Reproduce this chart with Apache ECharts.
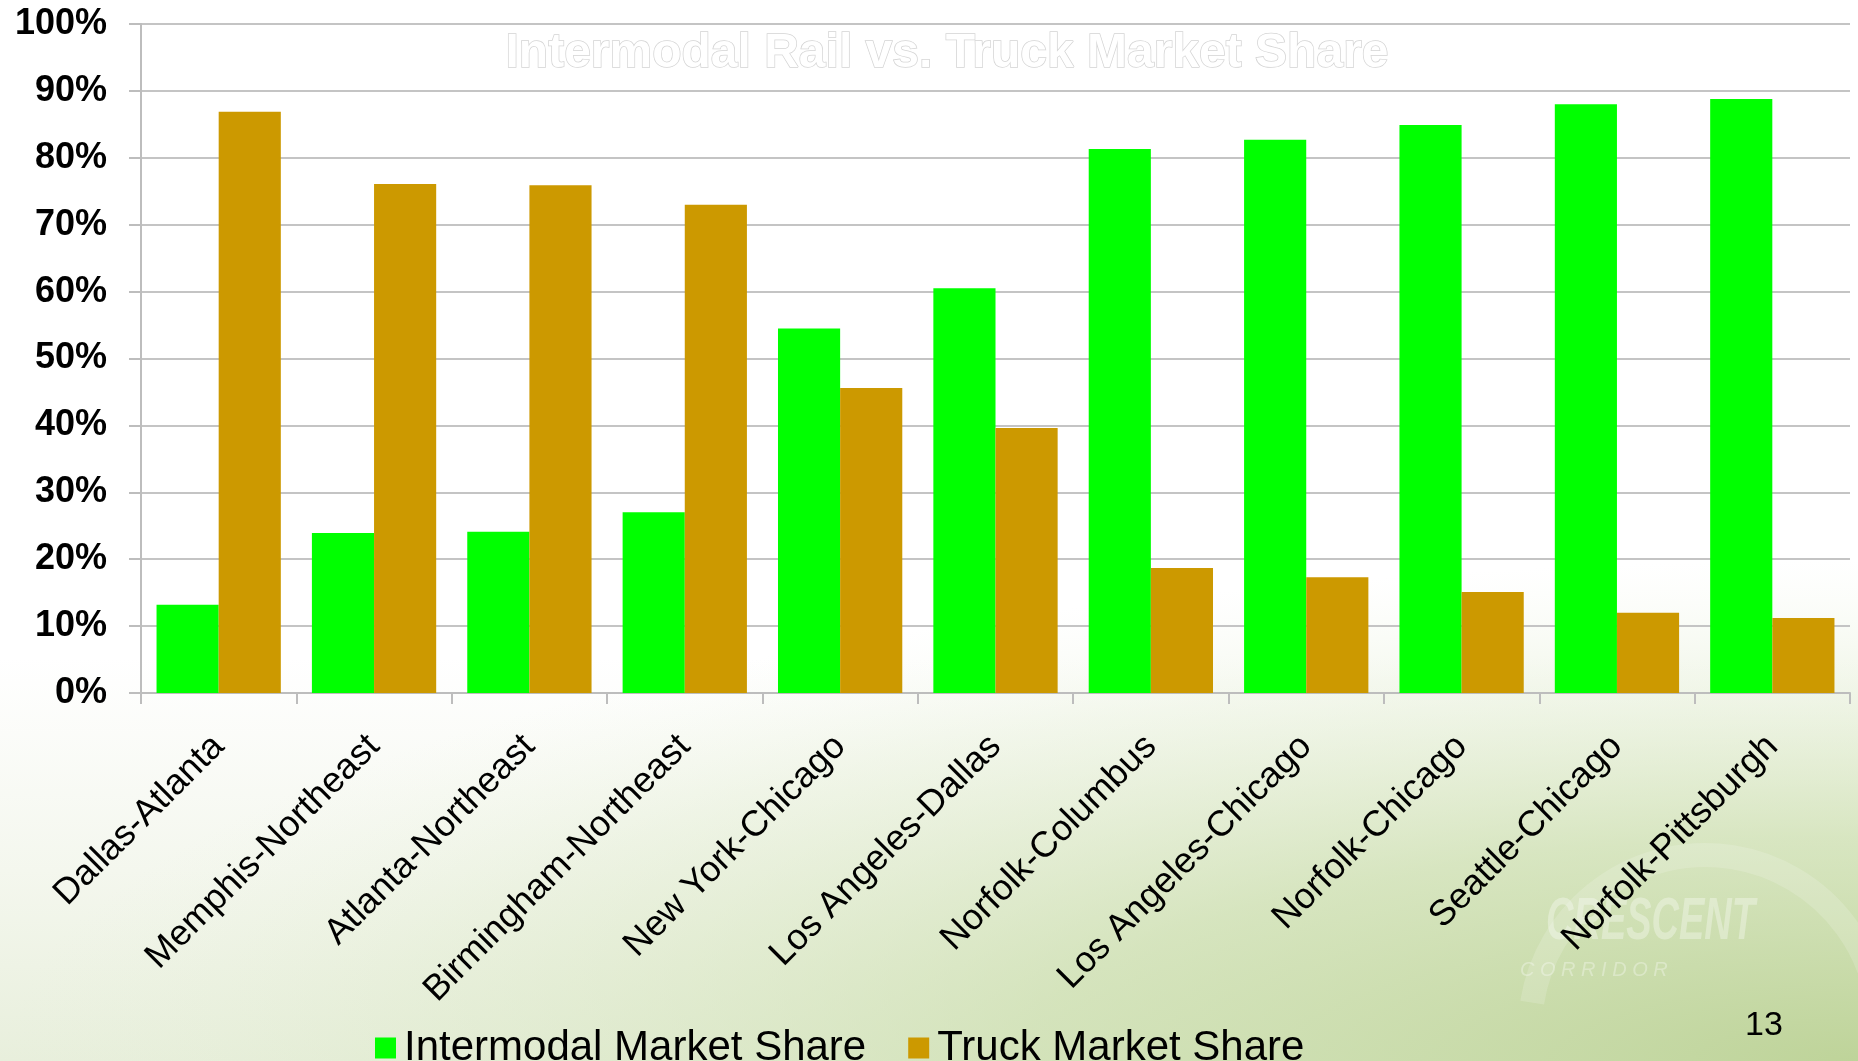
<!DOCTYPE html>
<html>
<head>
<meta charset="utf-8">
<script src="https://cdn.jsdelivr.net/npm/echarts@6/dist/echarts.min.js"></script>
<style>
html,body{margin:0;padding:0;background:#fff;}
#chart{width:1858px;height:1061px;}
</style>
</head>
<body>
<div id="chart"></div>
<script>
var categories = ['Dallas-Atlanta','Memphis-Northeast','Atlanta-Northeast','Birmingham-Northeast','New York-Chicago','Los Angeles-Dallas','Norfolk-Columbus','Los Angeles-Chicago','Norfolk-Chicago','Seattle-Chicago','Norfolk-Pittsburgh'];
var intermodalShare = [13.2, 23.9, 24.1, 27.0, 54.5, 60.5, 81.3, 82.7, 84.9, 88.0, 88.8];
var truckShare = [86.9, 76.1, 75.9, 73.0, 45.6, 39.6, 18.7, 17.3, 15.1, 12.0, 11.2];
var seriesNames = ['Intermodal Market Share', 'Truck Market Share'];
var titleText = 'Intermodal Rail vs. Truck Market Share';
var pageNumber = '13';

var chart = echarts.init(document.getElementById('chart'), null, {renderer:'canvas'});
var font = 'Arial, "Liberation Sans", Helvetica, sans-serif';
var option = {
  animation: false,
  backgroundColor: {
    type: 'linear', x: 0, y: 0, x2: 0, y2: 1,
    colorStops: [
      {offset: 0, color: '#ffffff'},
      {offset: 0.62, color: '#ffffff'},
      {offset: 0.82, color: '#f4f7ee'},
      {offset: 1, color: '#e8efdc'}
    ]
  },
  title: {
    text: titleText,
    left: 942, top: 25, textAlign: 'center',
    textStyle: {
      fontFamily: font, fontSize: 48, fontWeight: 'bold',
      color: '#ffffff', textBorderColor: '#d4d4d4', textBorderWidth: 1.5
    }
  },
  graphic: [
    {
      type: 'rect', z: -10, silent: true,
      x: 0, y: 560, scaleX: 1, scaleY: 0.27,
      shape: {x: 0, y: 0, width: 1858, height: 1858},
      style: {
        fill: {
          type: 'radial', x: 1, y: 1, r: 1,
          colorStops: [
            {offset: 0, color: 'rgba(188,210,150,0.95)'},
            {offset: 0.45, color: 'rgba(200,220,168,0.65)'},
            {offset: 0.8, color: 'rgba(215,230,192,0.25)'},
            {offset: 1, color: 'rgba(230,240,215,0)'}
          ]
        }
      }
    },
    {
      type: 'arc', z: -9, silent: true,
      shape: {cx: 1705, cy: 1030, r: 175, startAngle: Math.PI * 1.05, endAngle: Math.PI * 2.5, clockwise: true},
      style: {stroke: 'rgba(255,255,255,0.16)', lineWidth: 24, fill: null}
    },
    {
      type: 'text', z: -9, silent: true, x: 1546, y: 893, scaleY: 1.55,
      style: {text: 'CRESCENT', fontFamily: font, fontSize: 38, fontWeight: 'bold', fontStyle: 'italic', fill: 'rgba(255,255,255,0.33)'}
    },
    {
      type: 'text', z: -9, silent: true, x: 1520, y: 960,
      style: {text: 'C O R R I D O R', fontFamily: font, fontSize: 20, fontStyle: 'italic', fill: 'rgba(255,255,255,0.33)'}
    },
    {
      type: 'text', left: 1745, top: 1009,
      style: {text: pageNumber, fontFamily: font, fontSize: 34, fill: '#000'}
    }
  ],
  legend: {
    data: seriesNames,
    left: 370, top: 1022,
    icon: 'rect', itemWidth: 21, itemHeight: 21, itemGap: 42,
    textStyle: {fontFamily: font, fontSize: 42, color: '#000', padding: [0,0,0,3]}
  },
  grid: {left: 141, right: 8, top: 24, bottom: 368, containLabel: false},
  xAxis: {
    type: 'category',
    data: categories,
    axisLine: {lineStyle: {color: '#bdbdbd', width: 2}},
    axisTick: {show: true, length: 11, lineStyle: {color: '#bdbdbd', width: 2}},
    axisLabel: {rotate: 45, margin: 48, interval: 0, fontFamily: font, fontSize: 36, color: '#000'}
  },
  yAxis: {
    type: 'value', min: 0, max: 100, interval: 10,
    axisLine: {show: true, lineStyle: {color: '#bdbdbd', width: 2}},
    axisTick: {show: true, length: 12, lineStyle: {color: '#bdbdbd', width: 2}},
    splitLine: {lineStyle: {color: '#c4c4c4', width: 2}},
    axisLabel: {formatter: '{value}%', margin: 34, fontFamily: font, fontSize: 36, fontWeight: 'bold', color: '#000'}
  },
  series: [
    {name: seriesNames[0], type: 'bar', data: intermodalShare, barGap: '0%', barCategoryGap: '20%', itemStyle: {color: '#00ff00'}},
    {name: seriesNames[1], type: 'bar', data: truckShare, barGap: '0%', barCategoryGap: '20%', itemStyle: {color: '#cc9900'}}
  ]
};
chart.setOption(option);
</script>
</body>
</html>
